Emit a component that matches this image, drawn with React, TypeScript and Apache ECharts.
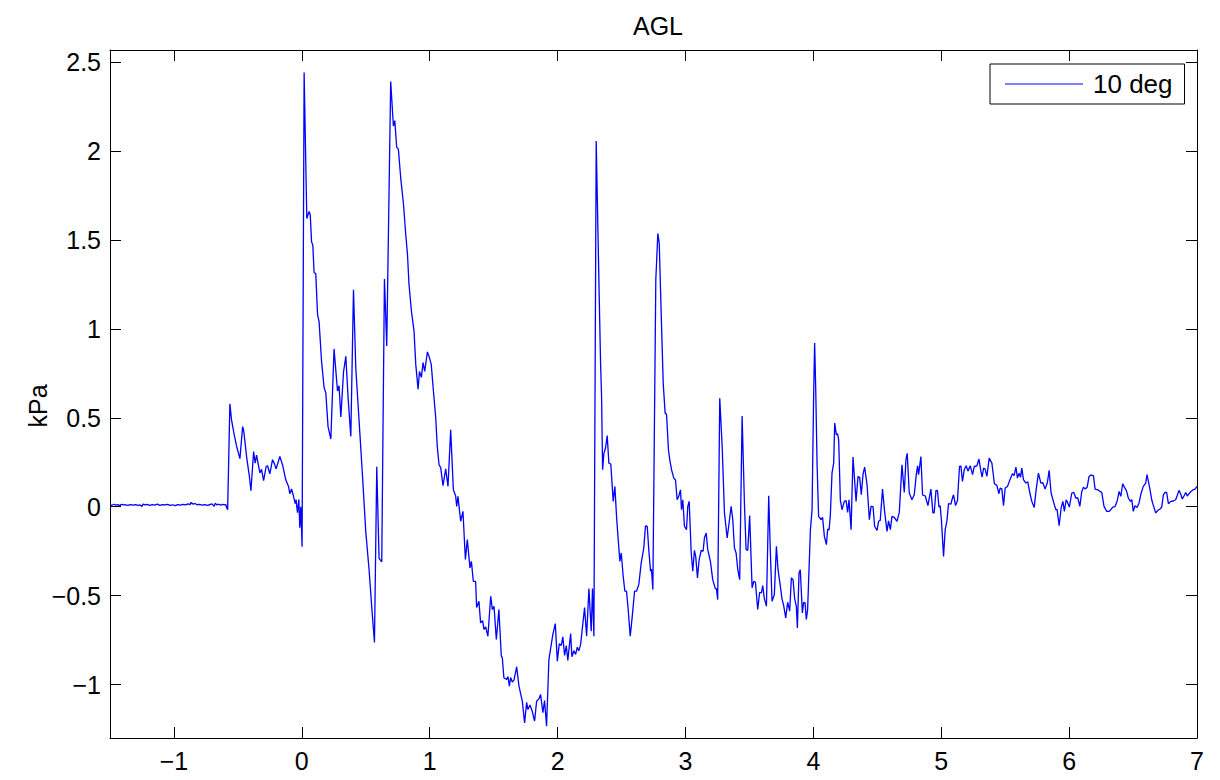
import React, { useEffect, useRef } from "react";
import * as echarts from "echarts";

// Pressure trace (time in s, pressure in kPa), split into segments
const baseline: [number, number][] = [
  [-1.5, 0.012], [-1.485, 0.008], [-1.47, 0.014], [-1.455, 0.009], [-1.44, 0.012], [-1.425, 0.006],
  [-1.41, 0.013], [-1.395, 0.01], [-1.38, 0.011], [-1.36, 0.007], [-1.34, 0.012], [-1.32, 0.009],
  [-1.3, 0.012], [-1.28, 0.008], [-1.265, 0.01], [-1.25, 0.002], [-1.24, 0.015], [-1.225, 0.01],
  [-1.21, 0.013], [-1.19, 0.008], [-1.17, 0.012], [-1.15, 0.009], [-1.13, 0.014], [-1.11, 0.008],
  [-1.09, 0.012], [-1.07, 0.01], [-1.05, 0.013], [-1.03, 0.007], [-1.01, 0.011], [-0.99, 0.006],
  [-0.97, 0.012], [-0.95, 0.009], [-0.93, 0.013], [-0.91, 0.01], [-0.89, 0.016], [-0.875, 0.012],
  [-0.865, 0.024], [-0.85, 0.014], [-0.835, 0.018], [-0.82, 0.011], [-0.8, 0.013], [-0.78, 0.009],
  [-0.76, 0.012], [-0.74, 0.008], [-0.72, 0.011], [-0.705, 0.016], [-0.695, 0.01], [-0.685, 0.002],
  [-0.677, 0.02], [-0.665, 0.01], [-0.65, 0.014], [-0.635, 0.009], [-0.62, 0.013], [-0.605, 0.01],
  [-0.595, 0.012], [-0.585, -0.01],
];

const precursor: [number, number][] = [
  [-0.58, -0.017], [-0.5625, 0.578], [-0.55, 0.49], [-0.53, 0.41], [-0.51, 0.34], [-0.495, 0.3],
  [-0.484, 0.27], [-0.463, 0.45], [-0.455, 0.43], [-0.43, 0.27], [-0.41, 0.17], [-0.398, 0.09],
  [-0.377, 0.31], [-0.365, 0.245], [-0.354, 0.29], [-0.328, 0.19], [-0.315, 0.21], [-0.299, 0.146],
  [-0.279, 0.226], [-0.268, 0.23], [-0.25, 0.185], [-0.229, 0.264], [-0.216, 0.245], [-0.201, 0.213],
  [-0.172, 0.282], [-0.151, 0.236], [-0.125, 0.15], [-0.104, 0.114], [-0.094, 0.073], [-0.08, 0.1],
  [-0.065, 0.058], [-0.052, 0.017], [-0.045, 0.04], [-0.034, -0.034], [-0.023, 0.041],
  [-0.016, -0.118], [-0.008, 0.0], [0.002, -0.225],
];

const firstShock: [number, number][] = [
  [0.018, 2.44], [0.039, 1.62], [0.057, 1.66], [0.066, 1.64], [0.076, 1.49], [0.086, 1.47],
  [0.096, 1.315], [0.109, 1.31], [0.123, 1.08], [0.135, 1.04], [0.154, 0.82], [0.174, 0.67],
  [0.1875, 0.64], [0.205, 0.45], [0.227, 0.38], [0.252, 0.887], [0.279, 0.65], [0.291, 0.68],
  [0.305, 0.505], [0.326, 0.757], [0.344, 0.845], [0.362, 0.61], [0.383, 0.395], [0.404, 1.22],
  [0.422, 0.78], [0.448, 0.48], [0.474, 0.18], [0.5, -0.14], [0.526, -0.355], [0.547, -0.567],
  [0.568, -0.763], [0.586, 0.224], [0.604, -0.29], [0.625, -0.31], [0.646, 1.28], [0.664, 0.903],
];

const secondShock: [number, number][] = [
  [0.695, 2.39], [0.716, 2.14], [0.727, 2.17], [0.742, 2.02], [0.755, 2.01], [0.773, 1.85],
  [0.795, 1.7], [0.8125, 1.53], [0.826, 1.42], [0.838, 1.25], [0.857, 1.1], [0.877, 0.99],
  [0.891, 0.8], [0.909, 0.66], [0.92, 0.76], [0.935, 0.727], [0.948, 0.81], [0.961, 0.76],
  [0.982, 0.87], [0.995, 0.845], [1.012, 0.8], [1.029, 0.65], [1.047, 0.5], [1.059, 0.34],
  [1.073, 0.236], [1.086, 0.22], [1.104, 0.118], [1.125, 0.213], [1.143, 0.114], [1.164, 0.432],
  [1.185, 0.095], [1.203, 0.06], [1.211, 0.002], [1.221, 0.058], [1.242, -0.082], [1.26, -0.026],
  [1.279, -0.297], [1.294, -0.185], [1.315, -0.344], [1.326, -0.307], [1.341, -0.419],
  [1.359, -0.42], [1.367, -0.567], [1.385, -0.531], [1.398, -0.653], [1.414, -0.64],
  [1.424, -0.69], [1.4375, -0.675], [1.455, -0.728], [1.477, -0.503], [1.49, -0.578],
  [1.503, -0.56], [1.521, -0.746], [1.541, -0.578], [1.56, -0.84], [1.568, -0.85],
];

const suction: [number, number][] = [
  [1.58, -0.961], [1.602, -0.971], [1.612, -0.955], [1.623, -1.008], [1.633, -0.96],
  [1.646, -0.985], [1.659, -0.975], [1.68, -0.9], [1.698, -1.008], [1.724, -1.093],
  [1.742, -1.215], [1.758, -1.1], [1.768, -1.14], [1.784, -1.115], [1.802, -1.15],
  [1.82, -1.205], [1.836, -1.093], [1.854, -1.08], [1.867, -1.055], [1.885, -1.158],
  [1.898, -1.09], [1.914, -1.233], [1.932, -0.859], [1.945, -0.8], [1.963, -0.718],
  [1.982, -0.657], [1.998, -0.868], [2.013, -0.771], [2.029, -0.78], [2.041, -0.731],
  [2.055, -0.836], [2.068, -0.78], [2.08, -0.864], [2.102, -0.713], [2.112, -0.843],
  [2.127, -0.81], [2.141, -0.83], [2.154, -0.79], [2.166, -0.81], [2.18, -0.774],
  [2.211, -0.567], [2.227, -0.728], [2.245, -0.46], [2.263, -0.7], [2.273, -0.46], [2.284, -0.728],
];

const thirdShock: [number, number][] = [
  [2.302, 2.056], [2.323, 1.27], [2.336, 0.81], [2.344, 0.62], [2.352, 0.208], [2.362, 0.3],
  [2.375, 0.33], [2.388, 0.4], [2.401, 0.245], [2.416, 0.24], [2.435, 0.03], [2.448, 0.114],
  [2.461, -0.054], [2.474, -0.185], [2.487, -0.307], [2.498, -0.26], [2.513, -0.391],
  [2.526, -0.475], [2.539, -0.475], [2.552, -0.578], [2.568, -0.728], [2.584, -0.615],
  [2.602, -0.475], [2.617, -0.475], [2.635, -0.438], [2.654, -0.316], [2.674, -0.232],
  [2.6875, -0.107], [2.701, -0.11], [2.713, -0.241], [2.727, -0.363], [2.734, -0.35],
  [2.745, -0.466], [2.768, 1.274],
];

const fourthShock: [number, number][] = [
  [2.784, 1.536], [2.795, 1.48], [2.81, 1.087], [2.826, 0.694], [2.841, 0.526], [2.852, 0.52],
  [2.867, 0.32], [2.877, 0.264], [2.891, 0.208], [2.909, 0.161], [2.922, 0.15], [2.935, 0.039],
  [2.948, 0.06], [2.961, 0.095], [2.969, -0.017], [2.979, 0.039], [2.992, -0.11], [3.008, -0.129],
  [3.018, 0.002], [3.029, 0.03], [3.045, -0.26], [3.057, -0.363], [3.07, -0.245], [3.08, -0.279],
  [3.094, -0.4], [3.107, -0.297], [3.123, -0.245], [3.138, -0.25], [3.148, -0.176],
  [3.162, -0.148], [3.174, -0.24], [3.195, -0.307], [3.213, -0.41], [3.234, -0.462],
  [3.242, -0.46], [3.252, -0.522],
];

const reflections: [number, number][] = [
  [3.268, 0.61], [3.287, 0.338], [3.305, -0.035], [3.326, -0.176], [3.338, -0.11], [3.357, 0.002],
  [3.37, -0.073], [3.383, -0.232], [3.396, -0.26], [3.409, -0.354], [3.424, -0.41], [3.443, 0.51],
  [3.461, 0.02], [3.474, -0.241], [3.487, -0.245], [3.502, -0.05], [3.521, -0.456],
  [3.534, -0.419], [3.547, -0.425], [3.565, -0.578], [3.58, -0.481], [3.594, -0.485],
  [3.604, -0.443], [3.617, -0.518], [3.633, -0.559], [3.651, 0.062], [3.664, -0.26],
  [3.677, -0.531], [3.695, -0.494], [3.711, -0.223], [3.724, -0.354], [3.74, -0.438],
  [3.755, -0.518], [3.768, -0.556], [3.784, -0.625], [3.799, -0.537], [3.815, -0.587],
  [3.828, -0.4], [3.841, -0.41], [3.854, -0.518], [3.867, -0.56], [3.875, -0.681],
  [3.888, -0.372], [3.898, -0.354], [3.914, -0.597], [3.924, -0.537], [3.935, -0.54],
  [3.945, -0.634], [3.955, -0.58], [3.977, -0.129], [3.99, -0.017], [4.002, 0.62],
  [4.01, 0.92], [4.018, 0.68], [4.029, 0.245], [4.041, -0.054], [4.06, -0.073], [4.072, -0.06],
  [4.086, -0.166], [4.102, -0.213], [4.112, -0.125], [4.123, -0.13], [4.133, -0.045],
  [4.146, 0.19], [4.159, 0.245], [4.167, 0.47], [4.18, 0.404], [4.19, 0.41], [4.198, 0.376],
  [4.211, 0.039], [4.224, -0.017], [4.242, 0.03], [4.256, 0.035], [4.268, -0.032], [4.279, 0.039],
  [4.295, -0.129], [4.31, 0.279], [4.334, 0.03], [4.349, 0.17], [4.362, 0.165], [4.375, 0.067],
  [4.388, 0.18], [4.401, 0.223], [4.42, 0.123], [4.438, -0.073], [4.451, 0.002], [4.467, 0.0],
  [4.479, -0.11], [4.498, -0.133], [4.51, -0.082], [4.523, -0.077], [4.541, 0.099],
  [4.557, -0.026], [4.576, -0.139], [4.588, -0.079], [4.602, -0.129], [4.615, -0.054],
  [4.633, -0.06], [4.654, -0.082], [4.672, -0.032], [4.693, 0.236], [4.711, 0.08], [4.724, 0.264],
  [4.734, 0.3], [4.75, 0.077], [4.771, 0.039], [4.789, 0.067], [4.805, 0.18], [4.815, 0.23],
  [4.823, 0.18], [4.841, 0.282], [4.854, 0.067], [4.875, 0.06], [4.896, 0.006], [4.919, 0.099],
  [4.935, -0.035], [4.945, -0.035], [4.959, 0.092], [4.971, 0.09], [4.982, -0.002], [4.992, 0.005],
];

const decay: [number, number][] = [
  [5.002, -0.082], [5.018, -0.279], [5.031, -0.129], [5.045, -0.077], [5.057, 0.017],
  [5.076, 0.015], [5.084, 0.039], [5.096, 0.067], [5.112, 0.006], [5.127, 0.035], [5.143, 0.226],
  [5.154, 0.228], [5.166, 0.142], [5.18, 0.208], [5.195, 0.23], [5.209, 0.2], [5.227, 0.23],
  [5.245, 0.18], [5.258, 0.226], [5.279, 0.23], [5.295, 0.268], [5.31, 0.2], [5.32, 0.167],
  [5.331, 0.217], [5.344, 0.21], [5.357, 0.17], [5.375, 0.273], [5.396, 0.245], [5.416, 0.129],
  [5.435, 0.12], [5.451, 0.073], [5.461, 0.105], [5.474, 0.1], [5.487, 0.006], [5.5, 0.105],
  [5.518, 0.114], [5.539, 0.155], [5.557, 0.185], [5.57, 0.175], [5.584, 0.223], [5.596, 0.161],
  [5.609, 0.189], [5.62, 0.165], [5.63, 0.217], [5.643, 0.152], [5.662, 0.133], [5.677, 0.14],
  [5.693, 0.077], [5.708, 0.03], [5.727, -0.004], [5.742, 0.095], [5.76, 0.189], [5.779, 0.133],
  [5.794, 0.135], [5.8125, 0.099], [5.83, 0.136], [5.844, 0.204], [5.859, 0.077], [5.877, 0.03],
  [5.896, -0.017], [5.906, -0.015], [5.922, -0.107], [5.9375, -0.007], [5.951, 0.03],
  [5.963, -0.026], [5.977, 0.039], [5.99, 0.02], [6.002, -0.002], [6.021, 0.077], [6.037, 0.08],
  [6.052, 0.049], [6.068, 0.049], [6.084, 0.002], [6.099, 0.086], [6.112, 0.11], [6.125, 0.1],
  [6.141, 0.11], [6.156, 0.17], [6.17, 0.178], [6.19, 0.175], [6.203, 0.099], [6.224, 0.095],
  [6.242, 0.086], [6.255, 0.08], [6.273, 0.002], [6.294, -0.026], [6.313, -0.026],
  [6.326, -0.017], [6.341, -0.002], [6.359, 0.0], [6.377, 0.035], [6.391, 0.086], [6.404, 0.058],
  [6.419, 0.129], [6.432, 0.11], [6.448, 0.09], [6.463, 0.049], [6.479, 0.03], [6.49, 0.04],
  [6.502, -0.026], [6.515, 0.006], [6.531, -0.005], [6.547, 0.021], [6.562, 0.073],
  [6.58, 0.114], [6.599, 0.133], [6.609, 0.18], [6.62, 0.142], [6.633, 0.095], [6.646, 0.039],
  [6.659, 0.006], [6.677, -0.035], [6.695, -0.02], [6.711, -0.013], [6.724, -0.002],
  [6.737, 0.067], [6.75, 0.08], [6.763, 0.08], [6.776, 0.017], [6.795, 0.03], [6.815, 0.032],
  [6.833, 0.039], [6.844, 0.06], [6.859, 0.092], [6.873, 0.07], [6.885, 0.043], [6.898, 0.06],
  [6.912, 0.08], [6.924, 0.06], [6.9375, 0.073], [6.953, 0.086], [6.969, 0.095], [6.984, 0.099],
  [7.0, 0.114],
];

const xTicks = [-1, 0, 1, 2, 3, 4, 5, 6, 7];
const yTicks = [-1, -0.5, 0, 0.5, 1, 1.5, 2, 2.5];
const xRange = [-1.5, 7];
const yRange = [-1.3, 2.567];
const seriesName = "10 deg";
const chartTitle = "AGL";
const yName = "kPa";

const FONT = "Liberation Sans, Arial, Helvetica, sans-serif";

const fmt = (v: number) => (v < 0 ? "\u2212" + String(-v) : String(v));

export default function App() {
  const ref = useRef<HTMLDivElement>(null);

  useEffect(() => {
    if (!ref.current) return;
    const chart = echarts.init(ref.current, undefined, { renderer: "svg" });
    const trace = [
      ...baseline,
      ...precursor,
      ...firstShock,
      ...secondShock,
      ...suction,
      ...thirdShock,
      ...fourthShock,
      ...reflections,
      ...decay,
    ];
    const tickStyle = { show: true, inside: true, length: 11, lineStyle: { color: "#000", width: 1 } };
    const lineStyle = { show: true, onZero: false, lineStyle: { color: "#000", width: 1 } };

    chart.setOption({
      animation: false,
      backgroundColor: "#fff",
      textStyle: { fontFamily: FONT },
      title: {
        text: chartTitle,
        left: 653,
        textAlign: "center",
        top: 8,
        textStyle: { fontFamily: FONT, fontSize: 25, fontWeight: "normal", color: "#000" },
      },
      legend: {
        left: 990,
        top: 64,
        padding: [7, 12, 7, 15],
        itemWidth: 78,
        itemHeight: 14,
        backgroundColor: "#fff",
        borderColor: "#000",
        borderWidth: 1,
        borderRadius: 0,
        textStyle: { fontFamily: FONT, fontSize: 26, color: "#000", padding: [0, 0, 0, 5] },
        data: [{ name: seriesName, icon: "path://M0,0 L100,0 L100,1 L0,1 Z" }],
        itemStyle: { color: "#0000ff" },
      },
      grid: { left: 110, right: 23, top: 50, bottom: 42, containLabel: false },
      xAxis: [
        {
          type: "value",
          min: xRange[0],
          max: xRange[1],
          position: "bottom",
          axisLine: lineStyle,
          axisTick: { ...tickStyle, customValues: xTicks },
          axisLabel: {
            customValues: xTicks,
            formatter: fmt,
            fontFamily: FONT,
            fontSize: 25,
            color: "#000",
            margin: 10,
          },
          splitLine: { show: false },
        },
        {
          type: "value",
          min: xRange[0],
          max: xRange[1],
          position: "top",
          axisLine: lineStyle,
          axisTick: { ...tickStyle, customValues: xTicks },
          axisLabel: { show: false, customValues: xTicks },
          splitLine: { show: false },
        },
      ],
      yAxis: [
        {
          type: "value",
          min: yRange[0],
          max: yRange[1],
          position: "left",
          name: yName,
          nameLocation: "middle",
          nameGap: 60,
          nameMoveOverlap: false,
          nameTextStyle: { fontFamily: FONT, fontSize: 25, color: "#000", padding: [0, 24, 0, 0] },
          axisLine: lineStyle,
          axisTick: { ...tickStyle, customValues: yTicks },
          axisLabel: {
            customValues: yTicks,
            formatter: fmt,
            fontFamily: FONT,
            fontSize: 25,
            color: "#000",
            margin: 9,
          },
          splitLine: { show: false },
        },
        {
          type: "value",
          min: yRange[0],
          max: yRange[1],
          position: "right",
          axisLine: lineStyle,
          axisTick: { ...tickStyle, customValues: yTicks },
          axisLabel: { show: false, customValues: yTicks },
          splitLine: { show: false },
        },
      ],
      series: [
        {
          name: seriesName,
          type: "line",
          xAxisIndex: 0,
          yAxisIndex: 0,
          data: trace,
          symbol: "none",
          showSymbol: false,
          color: "#0000ff",
          lineStyle: { color: "#0000ff", width: 1.3 },
        },
      ],
    });
    return () => chart.dispose();
  }, []);

  return (
    <div
      ref={ref}
      style={{ position: "absolute", left: 0, top: 0, width: 1220, height: 780, background: "#fff" }}
    />
  );
}
